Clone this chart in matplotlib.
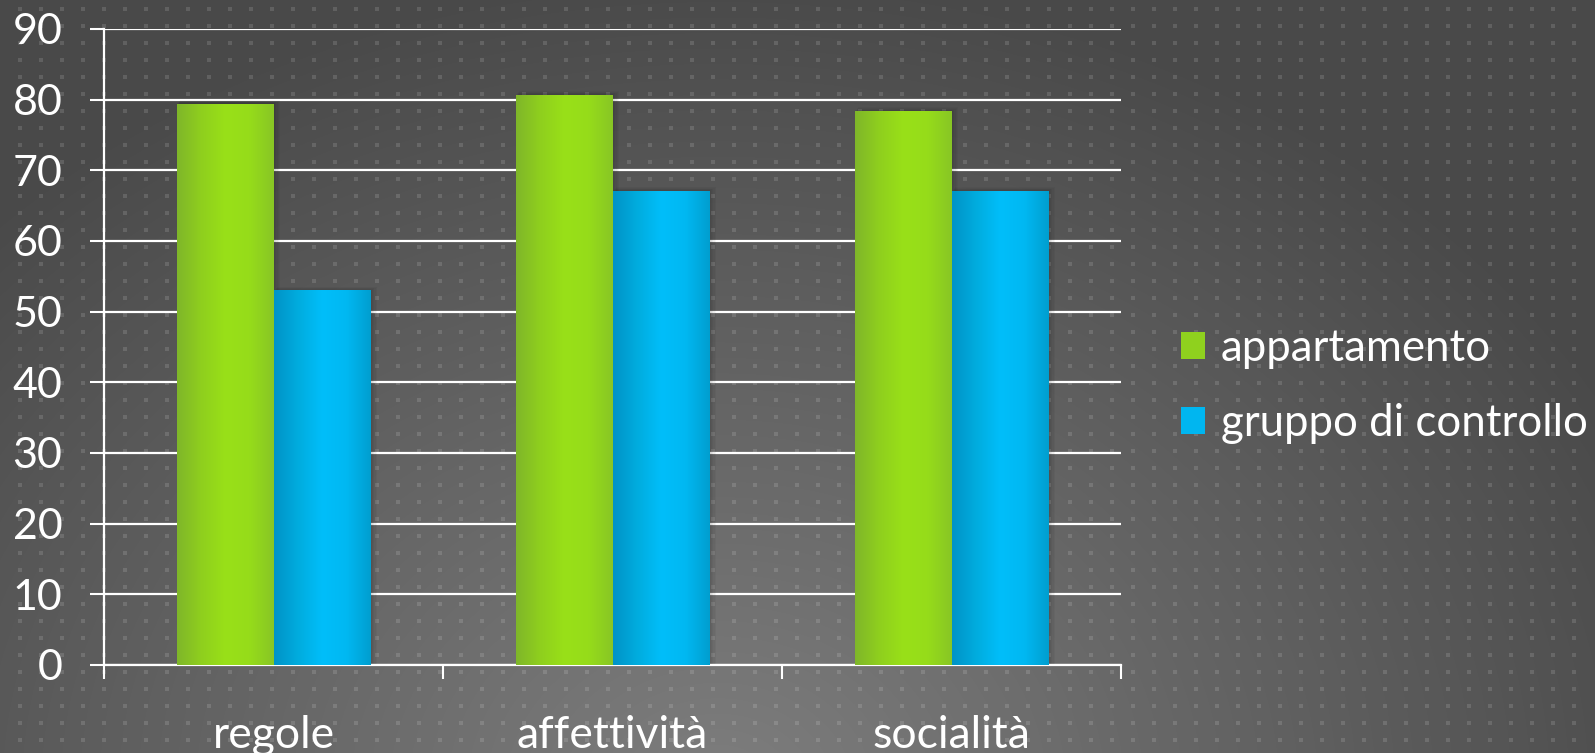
import numpy as np
import matplotlib
matplotlib.use("Agg")
import matplotlib.pyplot as plt
from matplotlib.colors import LinearSegmentedColormap
from matplotlib.patches import Patch

categories = ["regole", "affettività", "socialità"]
series_names = ["appartamento", "gruppo di controllo"]
appartamento = [79.4, 80.7, 78.4]
gruppo_controllo = [53.0, 67.1, 67.1]
yticks = [0, 10, 20, 30, 40, 50, 60, 70, 80, 90]

W, H, DPI = 1595, 753, 100
plt.rcParams['font.family'] = ['Lato', 'DejaVu Sans']

fig = plt.figure(figsize=(W / DPI, H / DPI), dpi=DPI)

# background: radial gradient + dot pattern
bg = fig.add_axes([0, 0, 1, 1], zorder=-10)
yy, xx = np.mgrid[0:H, 0:W]
d = np.sqrt(((xx - 0.45 * W) / 1.25) ** 2 + (yy - 1.05 * H) ** 2)
d = np.clip(d / 820.0, 0, 1)
c0, c1 = 0x7e / 255, 0x49 / 255
val = c0 + (c1 - c0) * d
img = np.dstack([val, val, val])
bg.imshow(img, extent=[0, W, H, 0], aspect='auto', interpolation='bilinear')
dx = np.arange(20, W, 21)
dy = np.arange(9, H, 17)
DX, DY = np.meshgrid(dx, dy)
bg.scatter(DX.ravel(), DY.ravel(), s=5, marker='s', color='white', alpha=0.13, linewidths=0)
bg.set_xlim(0, W)
bg.set_ylim(H, 0)
bg.axis('off')

ax = fig.add_axes([104 / W, 1 - 665 / H, (1121 - 104) / W, (665 - 29) / H])
ax.set_facecolor('none')

n = len(categories)
x = np.arange(n)
w = 1 / 3.5

green_cmap = LinearSegmentedColormap.from_list(
    'g', ['#7fb62a', '#8fcf1e', '#99e018', '#96dc1a', '#88c625'])
blue_cmap = LinearSegmentedColormap.from_list(
    'b', ['#0093c6', '#00acde', '#00befa', '#00b8f2', '#009ecf'])

grad = np.linspace(0, 1, 256).reshape(1, -1)

def draw(offset, vals, cmap, color):
    bars = ax.bar(x + offset, vals, width=w, color=color, zorder=3, linewidth=0)
    for b in bars:
        x0, y0 = b.get_x(), b.get_y()
        bw, bh = b.get_width(), b.get_height()
        for k in range(1, 6):
            ax.add_patch(plt.Rectangle((x0 + 0.002 * k, 0), bw + 0.002 * k, bh + 0.1 * k,
                                       color='black', alpha=0.035, zorder=2, linewidth=0))
        im = ax.imshow(grad, cmap=cmap, extent=[x0, x0 + bw, y0, y0 + bh],
                       aspect='auto', zorder=4, interpolation='bilinear')
        im.set_clip_path(b)
    return bars

draw(-w / 2, appartamento, green_cmap, '#96dc1a')
draw(w / 2, gruppo_controllo, blue_cmap, '#00befa')

ax.set_xlim(-0.5, n - 0.5)
ax.set_ylim(0, 90)
ax.set_yticks(yticks)
ax.set_yticklabels([str(v) for v in yticks])
ax.yaxis.grid(True, color='white', linewidth=1.6, zorder=1)
ax.set_axisbelow(True)

ax.set_xticks(np.arange(-0.5, n, 1.0))
ax.set_xticklabels([])
ax.set_xticks(x, minor=True)
ax.set_xticklabels(categories, minor=True)
ax.tick_params(axis='x', which='major', length=10, width=1.5, color='white', direction='out')
ax.tick_params(axis='x', which='minor', length=0, pad=36, labelsize=32, labelcolor='white')
ax.tick_params(axis='y', length=10, width=1.5, color='white', direction='out', pad=20,
               labelsize=31, labelcolor='white')

for s in ['top', 'right']:
    ax.spines[s].set_visible(False)
for s in ['left', 'bottom']:
    ax.spines[s].set_color('white')
    ax.spines[s].set_linewidth(1.6)

handles = [Patch(facecolor='#8fd11e', edgecolor='none'), Patch(facecolor='#00b6f0', edgecolor='none')]
leg = fig.legend(handles, series_names, loc='center left', bbox_to_anchor=(1142 / W, 1 - 386 / H),
                 frameon=False, fontsize=31.5, labelcolor='white', handlelength=0.55,
                 handleheight=0.55, handletextpad=0.35, labelspacing=0.78)

fig.savefig('out.png', dpi=DPI)
